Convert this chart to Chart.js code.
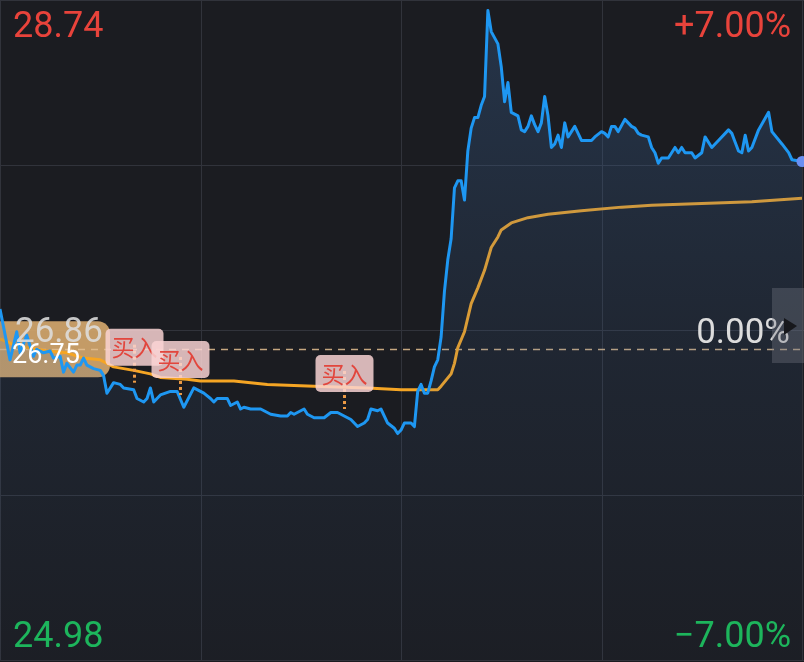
<!DOCTYPE html>
<html>
<head>
<meta charset="utf-8">
<script src="https://cdn.jsdelivr.net/npm/chart.js@4/dist/chart.umd.min.js"></script>
<style>
html,body{margin:0;padding:0;background:#1b1c21;}
canvas{display:block;}
</style>
</head>
<body>
<canvas id="c" width="804" height="662"></canvas>
<script>
// ---- data (minute index of the trading day, price) ----
const minutes = [0,3,5,6,8,10,11,13,15,16,18,19,20,22,23,24,25,26,28,30,31,32,34,36,37,40,41,43,44,45,46,48,51,53,55,58,61,63,
  64,65,67,68,69,71,72,73,75,78,80,81,84,86,87,88,90,91,92,94,97,99,101,103,105,107,109,110,111,113,114,116,118,119,120,121,123,124,
  125,126,127,128,129,130,131,132,133,134,135,136,137,138,139,140,141,142,143,144,145,146,147,149,150,151,152,153,155,156,157,158,159,160,161,162,163,164,165,166,167,168,169,170,172,174,177,178,
  180,181,182,183,184,185,187,189,190,191,192,194,195,196,197,198,200,202,203,204,205,207,208,210,211,213,215,218,219,220,221,222,223,224,225,227,230,231,234,236,237,240];
const prices = [26.98,26.69,26.85,26.73,26.83,26.71,26.75,26.73,26.74,26.70,26.71,26.62,26.67,26.62,26.66,26.66,26.70,26.66,26.64,26.63,26.60,26.50,26.56,26.55,26.53,26.52,26.47,26.45,26.47,26.53,26.45,26.49,26.51,26.51,26.42,26.53,26.50,26.47,
  26.45,26.47,26.47,26.47,26.43,26.45,26.41,26.42,26.41,26.41,26.39,26.38,26.37,26.37,26.39,26.38,26.40,26.41,26.38,26.36,26.36,26.39,26.39,26.37,26.35,26.31,26.33,26.35,26.41,26.40,26.41,26.33,26.30,26.27,26.29,26.33,26.33,26.31,
  26.51,26.55,26.50,26.50,26.57,26.65,26.69,26.82,27.08,27.26,27.38,27.67,27.71,27.71,27.60,27.88,28.01,28.07,28.07,28.14,28.19,28.68,28.56,28.49,28.36,28.16,28.27,28.10,28.08,28.00,27.99,28.02,28.08,28.03,27.99,28.04,28.19,28.08,27.90,27.92,27.97,27.90,28.04,27.96,28.02,27.94,27.94,27.96,
  27.99,27.98,27.96,28.02,28.02,27.99,28.06,28.02,28.01,27.98,27.97,27.96,27.90,27.87,27.81,27.84,27.84,27.90,27.87,27.90,27.87,27.87,27.84,27.87,27.96,27.90,27.94,28.00,27.98,27.93,27.88,27.87,27.97,27.88,27.90,28.00,28.10,27.99,27.92,27.87,27.83,27.82];
const avgMinutes = [0,5,8,14,20,25,30,34,40,45,48,56,60,70,80,94,110,120,131,132,135,136,137,139,141,143,145,147,149,150,153,158,164,174,186,195,210,225,240];
const avgPrices  = [26.81,26.77,26.76,26.74,26.73,26.70,26.69,26.65,26.63,26.61,26.59,26.58,26.57,26.57,26.55,26.54,26.53,26.52,26.52,26.54,26.61,26.67,26.76,26.85,27.01,27.10,27.20,27.33,27.39,27.43,27.47,27.50,27.52,27.54,27.56,27.57,27.58,27.59,27.61];
const buyMinutes = [40, 54, 103];
const buyPrices  = [26.52, 26.45, 26.37];
const buyLabel = '买入';
const yTicks = [24.98, 25.92, 26.86, 27.80, 28.74];
const xTicks = [0, 60, 120, 180, 240];
const prevClose = 26.86;
const costPrice = 26.75;
const pctLabels = ['+7.00%', '0.00%', '\u22127.00%'];
const priceLabels = ['28.74', '26.86', '24.98'];
const costLabel = '26.75';

const pricePoints = minutes.map((m, i) => ({x: m, y: prices[i]}));
const avgPoints = avgMinutes.map((m, i) => ({x: m, y: avgPrices[i]}));

const NUM_FONT = 'Roboto, "Noto Sans", sans-serif';

const decor = {
  id: 'decor',
  beforeDraw(chart) {
    const c = chart.ctx, xs = chart.scales.x, ys = chart.scales.y, a = chart.chartArea;
    c.save();
    c.fillStyle = '#1b1c21';
    c.fillRect(0, 0, chart.width, chart.height);
    // grid
    c.strokeStyle = '#31333b';
    c.lineWidth = 1;
    xTicks.forEach(v => {
      const px = Math.round(xs.getPixelForValue(v)) + 0.5;
      c.beginPath(); c.moveTo(px, a.top); c.lineTo(px, a.bottom); c.stroke();
    });
    yTicks.forEach(v => {
      const py = Math.round(ys.getPixelForValue(v)) + 0.5;
      c.beginPath(); c.moveTo(0, py); c.lineTo(chart.width, py); c.stroke();
    });
    c.restore();
  },
  beforeDatasetsDraw(chart) {
    const c = chart.ctx, ys = chart.scales.y, a = chart.chartArea;
    const yc = ys.getPixelForValue(costPrice);
    c.save();
    // cost tag box on the left
    c.fillStyle = 'rgba(210,166,108,0.92)';
    c.beginPath();
    c.roundRect(a.left, yc - 28, 110, 56, [0, 12, 12, 0]);
    c.fill();
    // dashed cost line
    c.strokeStyle = 'rgba(228,192,145,0.85)';
    c.lineWidth = 1.5;
    c.setLineDash([7, 6]);
    c.beginPath();
    c.moveTo(a.left, Math.round(yc) + 0.5);
    c.lineTo(chart.width, Math.round(yc) + 0.5);
    c.stroke();
    c.restore();
  },
  afterDatasetsDraw(chart) {
    const c = chart.ctx, xs = chart.scales.x, ys = chart.scales.y;
    c.save();
    // buy markers
    buyMinutes.forEach((m, i) => {
      const px = Math.round(xs.getPixelForValue(m)) + 0.5;
      const py = ys.getPixelForValue(buyPrices[i]);
      c.strokeStyle = '#ec9a45';
      c.lineWidth = 3;
      c.setLineDash([3, 3]);
      c.beginPath();
      c.moveTo(px, py - 45);
      c.lineTo(px, py - 7);
      c.stroke();
      c.setLineDash([]);
      c.fillStyle = 'rgba(250,212,212,0.84)';
      c.beginPath();
      c.roundRect(px - 29, py - 61, 58, 37, 5);
      c.fill();
      c.fillStyle = '#e2463d';
      c.font = '23px "Noto Sans CJK SC", sans-serif';
      c.textAlign = 'center';
      c.textBaseline = 'middle';
      c.fillText(buyLabel, px, py - 42);
    });
    // cost label
    const yc = ys.getPixelForValue(costPrice);
    c.textBaseline = 'alphabetic';
    c.textAlign = 'left';
    c.fillStyle = '#ffffff';
    c.font = '27px ' + NUM_FONT;
    c.fillText(costLabel, 12, yc + 14);
    // prev close labels
    const y0 = ys.getPixelForValue(prevClose);
    c.fillStyle = 'rgba(222,222,222,0.88)';
    c.font = '35px ' + NUM_FONT;
    c.fillText(priceLabels[1], 15, y0 + 12);
    c.textAlign = 'right';
    c.fillStyle = '#dcdcdc';
    c.fillText(pctLabels[1], 790, y0 + 13);
    // right side handle
    c.fillStyle = 'rgba(120,124,135,0.35)';
    c.fillRect(772, y0 - 42, 32, 75);
    c.fillStyle = '#17181c';
    c.beginPath();
    c.moveTo(784, y0 - 12);
    c.lineTo(797, y0 - 4);
    c.lineTo(784, y0 + 5);
    c.closePath();
    c.fill();
    // top / bottom labels
    c.font = '36px ' + NUM_FONT;
    c.textAlign = 'left';
    c.fillStyle = '#e8433b';
    c.fillText(priceLabels[0], 13, 37);
    c.textAlign = 'right';
    c.fillText(pctLabels[0], 791, 37);
    c.fillStyle = '#1db55c';
    c.textAlign = 'left';
    c.fillText(priceLabels[2], 13, 647);
    c.textAlign = 'right';
    c.fillText(pctLabels[2], 791, 647);
    c.restore();
  }
};

new Chart(document.getElementById('c'), {
  type: 'line',
  data: {
    datasets: [
      {
        data: pricePoints,
        borderColor: '#1e97f2',
        borderWidth: 3,
        tension: 0,
        borderJoinStyle: 'round',
        fill: 'start',
        clip: false,
        backgroundColor: (ctx) => {
          const a = ctx.chart.chartArea;
          if (!a) return 'rgba(50,90,140,0.2)';
          const g = ctx.chart.ctx.createLinearGradient(0, a.top, 0, a.bottom);
          g.addColorStop(0, 'rgba(60,105,160,0.32)');
          g.addColorStop(0.5, 'rgba(60,105,160,0.14)');
          g.addColorStop(1, 'rgba(60,105,160,0.03)');
          return g;
        },
        pointRadius: (ctx) => ctx.dataIndex === pricePoints.length - 1 ? 5.5 : 0,
        pointBackgroundColor: '#6a8ff2',
        pointBorderWidth: 0,
        pointHoverRadius: 0
      },
      {
        data: avgPoints,
        borderColor: '#f5a524',
        borderWidth: 3,
        borderJoinStyle: 'round',
        tension: 0,
        fill: false,
        pointRadius: 0
      }
    ]
  },
  options: {
    responsive: false,
    animation: false,
    layout: {autoPadding: false, padding: {left: 0, right: 2, top: 0, bottom: 2}},
    plugins: {legend: {display: false}, tooltip: {enabled: false}},
    scales: {
      x: {type: 'linear', min: 0, max: 240, display: false},
      y: {type: 'linear', min: 24.98, max: 28.74, display: false}
    }
  },
  plugins: [decor]
});
</script>
</body>
</html>
